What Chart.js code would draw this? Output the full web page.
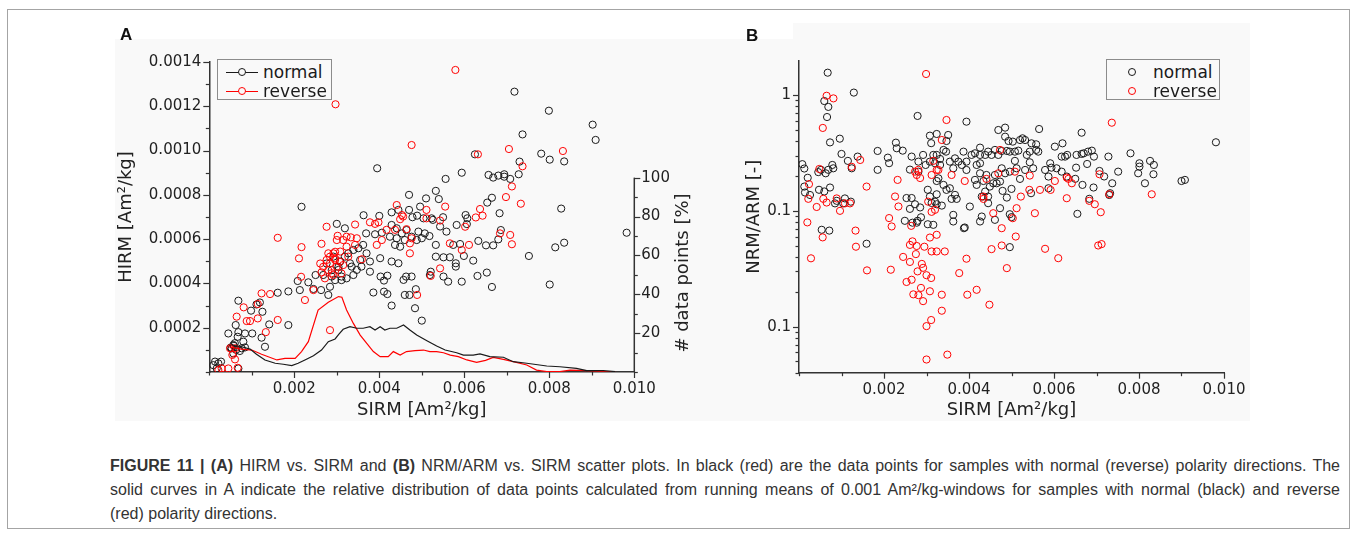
<!DOCTYPE html>
<html>
<head>
<meta charset="utf-8">
<script src="https://cdn.jsdelivr.net/npm/chart.js@4.4.1/dist/chart.umd.min.js"></script>
<style>
html,body{margin:0;padding:0;background:#fff;}
body{width:1358px;height:536px;position:relative;overflow:hidden;font-family:"DejaVu Sans",sans-serif;}
#frame{position:absolute;left:7px;top:9px;width:1343px;height:520px;border:1px solid #a4a4a4;box-sizing:border-box;}
#wrapA{position:absolute;left:115px;top:39px;width:585px;height:382px;background:#f9f9f9;}
#wrapB{position:absolute;left:700px;top:23px;width:550px;height:398px;background:#f9f9f9;}
#whiteB{position:absolute;left:700px;top:23px;width:93px;height:16px;background:#fff;}
.letter{position:absolute;font-family:"Liberation Sans",Arial,sans-serif;font-weight:bold;font-size:17px;line-height:17px;color:#111;}
.legend{position:absolute;border:1px solid #8c8c8c;box-sizing:border-box;background:#f9f9f9;}
.lgrow{position:absolute;left:0;height:20px;width:100%;}
.lgline{position:absolute;height:0;border-top:1.2px solid;}
.lgdot{position:absolute;width:8px;height:8px;border:1px solid;border-radius:50%;box-sizing:border-box;background:transparent;}
.lgtxt{position:absolute;font-family:"DejaVu Sans",sans-serif;font-size:17px;line-height:20px;color:#1a1a1a;white-space:nowrap;}
#y2title{position:absolute;left:594px;top:262px;width:176px;height:22px;line-height:22px;text-align:center;font-family:"DejaVu Sans",sans-serif;font-size:18px;color:#222;transform:rotate(-90deg);transform-origin:88px 11px;white-space:nowrap;}
#cap{position:absolute;left:110px;top:454px;font-family:"Liberation Sans",Arial,sans-serif;font-size:16px;color:#333;line-height:24px;transform-origin:0 0;}
.cl{white-space:nowrap;}
.j{text-align:justify;text-align-last:justify;}
</style>
</head>
<body>
<div id="frame"></div>
<div id="wrapA"><canvas id="cA"></canvas></div>
<div id="wrapB"><canvas id="cB"></canvas></div>
<div id="whiteB"></div>
<div class="letter" style="left:120px;top:26px;">A</div>
<div class="letter" style="left:746px;top:27px;">B</div>
<div id="y2title"># data points [%]</div>

<div class="legend" style="left:217px;top:59px;width:115px;height:41px;">
  <div class="lgrow" style="top:2px;">
    <div class="lgline" style="left:8px;top:10px;width:32px;border-color:#1a1a1a;"></div>
    <div class="lgdot" style="left:20px;top:6px;border-color:#1a1a1a;background:#f9f9f9;"></div>
    <div class="lgtxt" style="left:45px;top:0px;">normal</div>
  </div>
  <div class="lgrow" style="top:21px;">
    <div class="lgline" style="left:8px;top:10px;width:32px;border-color:#ff0000;"></div>
    <div class="lgdot" style="left:20px;top:6px;border-color:#ff0000;background:#f9f9f9;"></div>
    <div class="lgtxt" style="left:45px;top:0px;">reverse</div>
  </div>
</div>

<div class="legend" style="left:1106px;top:59px;width:114px;height:41px;">
  <div class="lgrow" style="top:2px;">
    <div class="lgdot" style="left:21px;top:6px;border-color:#1a1a1a;"></div>
    <div class="lgtxt" style="left:46px;top:0px;">normal</div>
  </div>
  <div class="lgrow" style="top:21px;">
    <div class="lgdot" style="left:21px;top:6px;border-color:#ff0000;"></div>
    <div class="lgtxt" style="left:46px;top:0px;">reverse</div>
  </div>
</div>

<div id="cap">
<div class="cl j" id="capl1"><b>FIGURE 11 |</b> <b>(A)</b> HIRM vs. SIRM and <b>(B)</b> NRM/ARM vs. SIRM scatter plots. In black (red) are the data points for samples with normal (reverse) polarity directions. The</div>
<div class="cl j">solid curves in A indicate the relative distribution of data points calculated from running means of 0.001 Am²/kg-windows for samples with normal (black) and reverse</div>
<div class="cl">(red) polarity directions.</div>
</div>

<script>
// ---------------- DATA ----------------
// shared SIRM axis
const sirmTicks = [0,0.001,0.002,0.003,0.004,0.005,0.006,0.007,0.008,0.009,0.010];
const sirmTickLabels = ['','','0.002','','0.004','','0.006','','0.008','','0.010'];

// Panel A axes
const hirmTicks = [0,0.0001,0.0002,0.0003,0.0004,0.0005,0.0006,0.0007,0.0008,0.0009,0.0010,0.0011,0.0012,0.0013,0.0014];
const hirmTickLabels = ['','','0.0002','','0.0004','','0.0006','','0.0008','','0.0010','','0.0012','','0.0014'];
const pctTicks = [0,10,20,30,40,50,60,70,80,90,100];
const pctTickLabels = ['','','20','','40','','60','','80','','100'];

// Panel B axis (log)
const ratioTicks = [0.004,0.005,0.006,0.007,0.008,0.009,0.01,0.02,0.03,0.04,0.05,0.06,0.07,0.08,0.09,0.1,0.2,0.3,0.4,0.5,0.6,0.7,0.8,0.9,1];
const ratioMajorTicks = [0.01,0.1,1];
const ratioMajorLabels = ['0.1','0.1','1'];

// Panel A: HIRM vs SIRM, normal polarity [SIRM, HIRM]
const hirmNormal = [
[0.00217,0.000746],[0.000684,0.000322],[0.00111,0.000305],[0.00119,0.000314],[0.000982,0.000277],[0.00125,0.000272],[0.00161,0.000358],[0.00186,0.000364],[0.00208,0.000411],[0.00213,0.00037],[0.00233,0.000405],[0.00245,0.000375],[0.00263,0.00037],[0.0028,0.000348],[0.0025,0.000438],[0.00268,0.000438],[0.00284,0.000385],[0.000621,0.000212],[0.000448,0.000174],[0.000684,0.00018],[0.00084,0.000174],[0.00101,0.000174],[0.000668,0.000159],[0.000801,0.000137],[0.000566,0.000122],[0.000527,0.000107],[0.000762,0.000107],[0.00084,0.000111],[0.00123,0.000155],[0.00131,0.000114],[0.00186,0.000212],[0.00141,0.000215],[0.000135,0.000047],[0.000213,0.000039],[0.000276,0.000047],[0.000095,0.000031],[0.000174,0.000016],[0.000684,0.000016],[0.000566,0.000084],[0.00276,0.00049],[0.00288,0.00046],[0.00304,0.000475],[0.00296,0.000415],[0.00311,0.000415],[0.0005,0.00011],[0.00058,0.000118],[0.00063,0.0001],[0.00072,0.000095],[0.0006,0.00013],
[0.00395,0.00092],[0.00556,0.000872],[0.00533,0.000818],[0.0054,0.000781],[0.0051,0.000784],[0.0047,0.0008],[0.00496,0.000747],[0.00429,0.000721],[0.00445,0.000732],[0.0047,0.000732],[0.00489,0.000706],[0.00478,0.000699],[0.00504,0.000694],[0.00523,0.000694],[0.0055,0.000699],[0.00526,0.000687],[0.00363,0.000708],[0.004,0.000705],[0.003,0.000669],[0.00319,0.000649],[0.00369,0.000626],[0.0039,0.000622],[0.00406,0.000629],[0.00425,0.000611],[0.00441,0.000604],[0.00437,0.000574],[0.00449,0.000566],[0.0046,0.000596],[0.00476,0.000611],[0.00488,0.000596],[0.005,0.000604],[0.00518,0.000614],[0.00402,0.000514],[0.00429,0.000499],[0.00445,0.000491],[0.00378,0.000499],[0.00358,0.000476],[0.00378,0.000453],[0.00347,0.000461],[0.00339,0.000438],[0.00331,0.000491],[0.00311,0.000431],[0.00323,0.000423],[0.00403,0.000431],[0.00411,0.000413],[0.00419,0.000435],[0.00457,0.000416],[0.00463,0.000431],[0.00476,0.000431],[0.00386,0.000359],[0.00411,0.000363],[0.00419,0.000352],[0.00429,0.0003],[0.0046,0.000348],[0.00471,0.000348],[0.00484,0.000288],[0.005,0.000232],[0.00486,0.000374],[0.00521,0.000453],[0.00519,0.000438],[0.00551,0.000431],[0.00562,0.000408],[0.0058,0.000491],[0.0058,0.000476],[0.00533,0.000574],[0.00533,0.000521],[0.00551,0.000518],[0.00566,0.000518],[0.00574,0.000574],[0.00582,0.000664],[0.00543,0.000657],[0.00558,0.000634],[0.00292,0.000521],[0.00308,0.000499],[0.00327,0.000536],[0.00339,0.000551],[0.00351,0.000559],[0.00362,0.000574],[0.00335,0.000476],[0.00304,0.000461],[0.00319,0.000521],[0.00355,0.000506],[0.0037,0.000536],[0.00288,0.000431],[0.00429,0.000664],[0.00441,0.000649],[0.00453,0.000626],[0.00464,0.000641],[0.00492,0.000634],[0.00507,0.000626],
[0.00718,0.001266],[0.00799,0.00118],[0.00902,0.001117],[0.00909,0.001048],[0.00737,0.001073],[0.00781,0.000986],[0.00801,0.000959],[0.00835,0.000951],[0.0073,0.00095],[0.00728,0.000893],[0.00657,0.00089],[0.00668,0.000878],[0.0068,0.000887],[0.00694,0.000893],[0.00694,0.000882],[0.00708,0.000872],[0.00594,0.0009],[0.00665,0.000787],[0.00654,0.000765],[0.00603,0.000709],[0.00607,0.000694],[0.00606,0.000668],[0.00683,0.000717],[0.00828,0.000738],[0.00686,0.000641],[0.0068,0.000599],[0.00633,0.000592],[0.00651,0.000572],[0.00668,0.000572],[0.0059,0.000578],[0.00599,0.000524],[0.00621,0.000503],[0.00752,0.000524],[0.00814,0.000563],[0.00835,0.000584],[0.00631,0.000434],[0.00653,0.000449],[0.00594,0.000408],[0.00665,0.000384],[0.00801,0.000395],[0.00625,0.000983],[0.00982,0.000629]
];

// Panel A: reverse polarity [SIRM, HIRM]
const hirmReverse = [
[0.00161,0.000606],[0.00217,0.000564],[0.00211,0.000513],[0.00264,0.000579],[0.00276,0.000656],[0.00302,0.000615],[0.0028,0.000536],[0.00296,0.000513],[0.00123,0.000355],[0.00143,0.000352],[0.00114,0.000307],[0.000809,0.000292],[0.000644,0.00025],[0.00088,0.00023],[0.000958,0.00023],[0.00114,0.000242],[0.00161,0.000235],[0.00133,0.00018],[0.00284,0.000189],[0.00225,0.000325],[0.00216,0.00043],[0.00245,0.00037],[0.000488,0.000107],[0.000605,0.000107],[0.000542,0.000077],[0.000605,0.000057],[0.000291,0.000016],[0.000213,0.000009],[0.000668,0.000019],[0.000448,0.000016],[0.00261,0.00049],[0.00268,0.000475],[0.00276,0.000506],[0.00284,0.000521],[0.00296,0.000543],[0.00307,0.000498],[0.00315,0.000483],[0.0028,0.00046],[0.00292,0.000438],[0.00264,0.00045],[0.00272,0.000423],[0.00311,0.000445],
[0.00476,0.001025],[0.00555,0.000747],[0.00511,0.000732],[0.00511,0.000694],[0.00543,0.000684],[0.00566,0.000581],[0.00543,0.000468],[0.00521,0.000434],[0.00472,0.000536],[0.00489,0.000348],[0.00441,0.000754],[0.00453,0.000709],[0.00449,0.00069],[0.00456,0.000702],[0.00398,0.000676],[0.0039,0.000669],[0.00378,0.000676],[0.00343,0.000666],[0.00437,0.000642],[0.00417,0.000642],[0.00406,0.000596],[0.00394,0.000574],[0.00464,0.000645],[0.00476,0.000604],[0.00472,0.000581],[0.003,0.000596],[0.00315,0.000596],[0.00323,0.000611],[0.00333,0.000608],[0.00347,0.000604],[0.00292,0.000536],[0.00308,0.000544],[0.00323,0.000566],[0.00327,0.000521],[0.003,0.000476],[0.00284,0.000491],[0.00296,0.000506],[0.00288,0.000446],[0.00359,0.000509],[0.00343,0.000574],
[0.00632,0.000983],[0.00705,0.001007],[0.00832,0.000998],[0.00737,0.000929],[0.00712,0.000838],[0.00698,0.00079],[0.00733,0.00076],[0.00637,0.000736],[0.00643,0.000706],[0.00627,0.000698],[0.00602,0.000656],[0.00611,0.000574],[0.00594,0.000551],[0.00684,0.000626],[0.00708,0.000619],[0.00712,0.000577],
[0.00297,0.001209],[0.00579,0.001364]
];

// Panel A: running-mean distribution curves (% of data points)
const normalCurveSirm = [0.00053,0.00076,0.00096,0.00111,0.00131,0.00155,0.00174,0.00194,0.00209,0.00225,0.00245,0.00264,0.0028,0.00296,0.00305,0.00315,0.00331,0.00347,0.00362,0.00378,0.0039,0.00402,0.00413,0.00425,0.00441,0.00457,0.00472,0.00488,0.00512,0.00535,0.00555,0.00582,0.00598,0.00621,0.00637,0.0066,0.00692,0.00715,0.00747,0.00794,0.00825,0.00864,0.00888,0.00927,0.00955];
const normalCurvePct  = [13.9,13.0,11.8,9.1,6.2,4.5,4.0,3.3,4.5,6.2,8.4,11.3,15.6,17.0,19.5,22.0,23.3,22.5,22.5,23.3,21.6,23.3,21.6,22.5,22.5,24.2,21.6,19.0,16.1,13.4,11.3,9.9,8.7,8.7,9.3,7.9,7.6,5.3,4.5,3.1,2.7,1.9,0.7,0.7,0.2];
const reverseCurveSirm = [0.00045,0.00076,0.001,0.00123,0.00159,0.00178,0.00202,0.00217,0.00233,0.00256,0.0028,0.00304,0.00312,0.00323,0.00339,0.00355,0.0037,0.00386,0.00402,0.00421,0.00433,0.00449,0.00464,0.00484,0.00504,0.00519,0.00535,0.00551,0.00567,0.00586,0.00606,0.00629,0.0065,0.00668,0.00692,0.00715,0.00747,0.0077,0.00794,0.00825,0.00849,0.00888,0.00927,0.00955];
const reverseCurvePct  = [13.0,11.8,11.3,9.1,6.2,7.0,7.0,10.5,15.6,31.9,35.9,38.8,38.5,31.9,25.0,19.0,14.8,10.5,7.9,7.9,10.5,8.7,10.5,11.0,11.3,10.5,10.5,9.9,8.7,7.9,6.2,5.0,6.0,7.5,6.5,5.3,3.6,1.0,0.2,0.2,1.0,0.7,0.2,0.2];

// Panel B: NRM/ARM vs SIRM, normal polarity [SIRM, NRM/ARM]
const ratioNormal = [
[0.000675,1.56],[0.00129,1.05],[0.000595,0.888],[0.00069,0.79],[0.00066,0.646],[0.00073,0.39],[0.00096,0.42],[0.001,0.31],[0.00115,0.27],[0.00124,0.233],[0.00138,0.294],[0.00185,0.329],[0.00209,0.288],[0.00212,0.258],[0.00185,0.226],[0.00228,0.388],[0.0023,0.347],[0.00244,0.331],[0.00279,0.66],
[0.000078,0.253],[0.000125,0.232],[0.000205,0.193],[0.000125,0.162],[0.000141,0.144],[0.000259,0.137],[0.000454,0.216],[0.000518,0.226],[0.000628,0.211],[0.000689,0.226],[0.000807,0.233],[0.000784,0.249],[0.000471,0.152],[0.000595,0.147],[0.00073,0.159],[0.000847,0.116],[0.000887,0.122],[0.00108,0.128],[0.00104,0.116],[0.00122,0.12],[0.000534,0.0686],[0.000713,0.0675],[0.00159,0.052],
[0.00265,0.294],[0.00281,0.266],[0.00292,0.304],[0.00308,0.266],[0.00308,0.446],[0.00311,0.384],[0.00261,0.227],[0.00281,0.218],[0.00298,0.249],[0.00253,0.129],[0.00265,0.129],[0.00261,0.104],[0.00273,0.114],[0.00285,0.107],[0.00249,0.082],[0.00279,0.082],[0.00287,0.088],[0.00303,0.152],[0.00308,0.133],[0.00312,0.117],[0.00303,0.0766],[0.00277,0.079],[0.00267,0.079],
[0.00394,0.589],[0.00469,0.499],[0.00485,0.523],[0.00485,0.437],[0.00493,0.401],[0.00503,0.396],[0.0052,0.409],[0.00526,0.423],[0.00532,0.409],[0.00547,0.383],[0.00558,0.3755],[0.00565,0.509],[0.00602,0.3585],[0.0062,0.383],[0.00631,0.304],[0.00626,0.294],[0.00324,0.461],[0.00351,0.452],[0.00347,0.401],[0.00346,0.3245],[0.0034,0.3357],[0.00316,0.304],[0.00324,0.304],[0.00332,0.2806],[0.0032,0.2575],[0.00332,0.249],[0.00355,0.266],[0.00367,0.284],[0.00363,0.233],[0.00375,0.266],[0.00387,0.3245],[0.00383,0.249],[0.00394,0.266],[0.00394,0.2255],[0.00406,0.304],[0.00414,0.314],[0.00426,0.3515],[0.00426,0.304],[0.00438,0.304],[0.00445,0.3245],[0.00453,0.304],[0.00461,0.3357],[0.00469,0.304],[0.00477,0.329],[0.00489,0.329],[0.00496,0.3245],[0.00508,0.3245],[0.00516,0.331],[0.00536,0.304],[0.00543,0.3245],[0.00558,0.3357],[0.00563,0.3245],[0.00543,0.2626],[0.00532,0.2255],[0.00551,0.233],[0.00508,0.27],[0.00512,0.233],[0.0052,0.1887],[0.00496,0.218],[0.00485,0.211],[0.00477,0.233],[0.00426,0.2575],[0.00418,0.249],[0.00426,0.211],[0.00441,0.204],[0.00414,0.185],[0.00418,0.1675],[0.00457,0.173],[0.00465,0.173],[0.00473,0.179],[0.00449,0.162],[0.00434,0.181],[0.00461,0.204],[0.00324,0.181],[0.00328,0.191],[0.0034,0.1675],[0.00347,0.1517],[0.00355,0.1567],[0.00367,0.1373],[0.00324,0.139],[0.00371,0.1268],[0.00359,0.1268],[0.00336,0.111],[0.00324,0.114],[0.00316,0.0757],[0.0032,0.12],[0.00438,0.1467],[0.00445,0.1328],[0.0043,0.1328],[0.00445,0.1164],[0.00402,0.1089],[0.00479,0.1487],[0.00489,0.1302],[0.005,0.1547],[0.00579,0.2255],[0.00594,0.236],[0.00606,0.233],[0.00591,0.2575],[0.00587,0.1977],[0.00618,0.218],[0.0063,0.1977],[0.00587,0.1567],[0.00546,0.142],[0.0043,0.0893],[0.00426,0.0809],[0.00363,0.0923],[0.00363,0.0809],[0.00388,0.0708],[0.0039,0.0718],[0.00461,0.0836],[0.00473,0.1054],[0.00496,0.0935],[0.005,0.0882],[0.00496,0.0486],
[0.00665,0.473],[0.00618,0.294],[0.00653,0.304],[0.00665,0.31],[0.0067,0.314],[0.0068,0.3245],[0.00689,0.331],[0.00694,0.294],[0.00728,0.294],[0.00678,0.254],[0.00652,0.236],[0.0065,0.189],[0.00707,0.221],[0.00718,0.198],[0.00737,0.173],[0.00751,0.218],[0.0078,0.314],[0.00801,0.2575],[0.00801,0.241],[0.00798,0.211],[0.00826,0.27],[0.00835,0.249],[0.00834,0.207],[0.00814,0.173],[0.00667,0.1675],[0.00693,0.159],[0.00683,0.127],[0.0073,0.137],[0.00732,0.142],[0.00655,0.0942],[0.009,0.181],[0.00908,0.185],[0.00981,0.391]
];

// Panel B: reverse polarity [SIRM, NRM/ARM]
const ratioReverse = [
[0.00299,1.52],[0.00065,0.986],[0.00081,0.936],[0.00056,0.52],[0.000478,0.23],[0.000235,0.17],[0.000219,0.127],[0.000572,0.127],[0.00065,0.118],[0.000416,0.108],[0.000887,0.128],[0.000965,0.1],[0.00108,0.116],[0.0012,0.116],[0.00144,0.275],[0.00124,0.24],[0.00159,0.162],[0.000196,0.0795],[0.000282,0.0389],[0.000557,0.059],[0.00133,0.0675],[0.00134,0.049],[0.0016,0.0306],[0.00216,0.031],[0.00212,0.0866],[0.00218,0.0733],[0.00226,0.133],[0.00234,0.109],[0.00232,0.185],
[0.00264,0.0742],[0.00261,0.0508],[0.00267,0.0545],[0.00277,0.0497],[0.00295,0.049],[0.00275,0.0423],[0.00261,0.0362],[0.00245,0.04],[0.00289,0.0348],[0.00292,0.0322],[0.003,0.0278],[0.00279,0.03],[0.00311,0.0263],[0.00265,0.0254],[0.00253,0.0243],[0.00287,0.0216],[0.00269,0.019],[0.00281,0.0187],[0.00292,0.0166],[0.00308,0.0202],[0.00311,0.0114],[0.003,0.0101],[0.003,0.0052],[0.00273,0.218],[0.00277,0.204],[0.00285,0.192],[0.00281,0.226],[0.00304,0.12],[0.00312,0.098],[0.00308,0.0588],[0.00312,0.0446],[0.00316,0.27],
[0.00347,0.609],[0.00336,0.409],[0.00324,0.2255],[0.00312,0.204],[0.00328,0.2255],[0.00359,0.204],[0.0039,0.181],[0.00434,0.1328],[0.00434,0.1268],[0.00457,0.0954],[0.00441,0.1887],[0.00469,0.211],[0.00473,0.3357],[0.00508,0.218],[0.00543,0.2016],[0.00522,0.1328],[0.00542,0.1517],[0.00567,0.1517],[0.00555,0.0954],[0.00512,0.1054],[0.00503,0.0864],[0.00477,0.0708],[0.0051,0.06],[0.00477,0.0502],[0.00453,0.0467],[0.00394,0.0386],[0.00377,0.029],[0.00324,0.0446],[0.00343,0.0446],[0.00324,0.0621],[0.0032,0.102],[0.00336,0.01886],[0.00396,0.01886],[0.00418,0.0208],[0.00448,0.01546],[0.00489,0.032],[0.00579,0.047],[0.0061,0.039],[0.0063,0.1937],[0.0063,0.1285],[0.00592,0.1517],[0.00602,0.181],[0.00336,0.01372],[0.00349,0.00573],
[0.00736,0.577],[0.00634,0.189],[0.00642,0.173],[0.00707,0.207],[0.00683,0.122],[0.00696,0.114],[0.0071,0.0973],[0.0073,0.139],[0.0083,0.139],[0.00704,0.0502],[0.00712,0.0516]
];

// ---------------- STYLE / HELPERS ----------------
const BLACK = '#1a1a1a';
const RED = '#ff0000';
const AXIS = '#333333';
const TICKFONT = {family:'DejaVu Sans', size:15};
const TITLEFONT = {family:'DejaVu Sans', size:18};

const pts = arr => arr.map(p => ({x:p[0], y:p[1]}));
const zip = (xs, ys) => xs.map((x,i) => ({x:x, y:ys[i]}));
const fixedTicks = values => s => { s.ticks = values.map(v => ({value:v})); };
const byIndex = labels => (v, i) => labels[i];

const tickMarks = {
  id:'tickMarks',
  afterDraw(chart){
    const ctx = chart.ctx;
    ctx.save();
    ctx.strokeStyle = AXIS;
    ctx.lineWidth = 1.2;
    Object.values(chart.scales).forEach(s => {
      s.ticks.forEach(t => {
        const major = t.label !== '' && t.label !== undefined && t.label !== null;
        const len = major ? 6 : 3.5;
        const p = Math.round(s.getPixelForValue(t.value)) + 0.5;
        ctx.beginPath();
        if (s.position === 'bottom') { ctx.moveTo(p, s.top); ctx.lineTo(p, s.top + len); }
        else if (s.position === 'left') { ctx.moveTo(s.right, p); ctx.lineTo(s.right - len, p); }
        else { ctx.moveTo(s.left, p); ctx.lineTo(s.left + len, p); }
        ctx.stroke();
      });
      if (s.id === 'y2') {
        ctx.beginPath();
        ctx.lineWidth = 1.5;
        ctx.moveTo(s.left, s.getPixelForValue(pctTicks[0]));
        ctx.lineTo(s.left, s.getPixelForValue(pctTicks[pctTicks.length-1]));
        ctx.stroke();
        ctx.lineWidth = 1.2;
      }
    });
    ctx.restore();
  }
};

function sirmScale(h){
  return {
    type:'linear', position:'bottom', min:0, max:0.010,
    afterBuildTicks: fixedTicks(sirmTicks),
    ticks:{autoSkip:false, maxRotation:0, minRotation:0, padding:8, font:TICKFONT, color:'#222', callback: byIndex(sirmTickLabels)},
    grid:{display:false, drawTicks:false},
    border:{display:true, color:AXIS, width:1.5},
    title:{display:true, text:'SIRM [Am²/kg]', font:TITLEFONT, color:'#222', padding:{top:0, bottom:0}},
    afterFit: s => { s.height = h; s.paddingLeft = 0; s.paddingRight = 0; }
  };
}

const pointStyle = color => ({
  borderColor: color, backgroundColor:'rgba(0,0,0,0)', pointRadius:3.6, pointBorderWidth:1,
  pointHoverRadius:3.6, pointStyle:'circle', showLine:false
});

const common = {
  responsive:true, maintainAspectRatio:false, animation:false, devicePixelRatio:1,
  plugins:{legend:{display:false}, tooltip:{enabled:false}},
  events:[]
};

// ---------------- CHART A ----------------
new Chart(document.getElementById('cA'), {
  type:'scatter',
  data:{datasets:[
    {label:'normal curve', data: zip(normalCurveSirm, normalCurvePct), yAxisID:'y2', showLine:true, borderColor:BLACK, borderWidth:1.2, pointRadius:0, order:0},
    {label:'reverse curve', data: zip(reverseCurveSirm, reverseCurvePct), yAxisID:'y2', showLine:true, borderColor:RED, borderWidth:1.2, pointRadius:0, order:0},
    Object.assign({label:'reverse', data: pts(hirmReverse), yAxisID:'y', order:1}, pointStyle(RED)),
    Object.assign({label:'normal', data: pts(hirmNormal), yAxisID:'y', order:2}, pointStyle(BLACK))
  ]},
  options: Object.assign({}, common, {
    layout:{padding:{top:23, left:0, right:0, bottom:0}},
    scales:{
      x: sirmScale(49),
      y:{
        type:'linear', position:'left', min:0, max:0.0014,
        afterBuildTicks: fixedTicks(hirmTicks),
        ticks:{autoSkip:false, padding:8, font:TICKFONT, color:'#222', callback: byIndex(hirmTickLabels)},
        grid:{display:false, drawTicks:false},
        border:{display:true, color:AXIS, width:1.5},
        title:{display:true, text:'HIRM [Am²/kg]', font:TITLEFONT, color:'#222', padding:{top:1, bottom:0}},
        afterFit: s => { s.width = 94.3; s.paddingTop = 0; s.paddingBottom = 0; }
      },
      y2:{
        type:'linear', position:'right', min:0, max:159.5,
        afterBuildTicks: fixedTicks(pctTicks),
        ticks:{autoSkip:false, padding:7, font:TICKFONT, color:'#222', callback: byIndex(pctTickLabels)},
        grid:{display:false, drawTicks:false},
        border:{display:false},
        afterFit: s => { s.width = 65.7; s.paddingTop = 0; s.paddingBottom = 0; }
      }
    }
  }),
  plugins:[tickMarks]
});

// ---------------- CHART B ----------------
new Chart(document.getElementById('cB'), {
  type:'scatter',
  data:{datasets:[
    Object.assign({label:'reverse', data: pts(ratioReverse), order:1}, pointStyle(RED)),
    Object.assign({label:'normal', data: pts(ratioNormal), order:2}, pointStyle(BLACK))
  ]},
  options: Object.assign({}, common, {
    layout:{padding:{top:37.7, left:0, right:26, bottom:0}},
    scales:{
      x: sirmScale(48.3),
      y:{
        type:'logarithmic', position:'left', min:0.004, max:1.98,
        afterBuildTicks: fixedTicks(ratioTicks),
        ticks:{autoSkip:false, padding:8, font:TICKFONT, color:'#222',
          callback: v => { const k = ratioMajorTicks.findIndex(m => Math.abs(m - v) / m < 1e-6); return k >= 0 ? ratioMajorLabels[k] : ''; }},
        grid:{display:false, drawTicks:false},
        border:{display:true, color:AXIS, width:1.5},
        title:{display:true, text:'NRM/ARM [-]', font:TITLEFONT, color:'#222', padding:{top:44, bottom:0}},
        afterFit: s => { s.width = 99; s.paddingTop = 0; s.paddingBottom = 0; }
      }
    }
  }),
  plugins:[tickMarks]
});

// caption: condensed look by horizontal scaling so that line 1 spans the text block width
(function(){
  const TARGET = 1230;
  const cap = document.getElementById('cap');
  const l1 = document.getElementById('capl1');
  l1.style.display = 'inline-block';
  l1.style.textAlign = 'left'; l1.style.textAlignLast = 'auto';
  const natural = l1.getBoundingClientRect().width;
  l1.style.display = ''; l1.style.textAlign = ''; l1.style.textAlignLast = '';
  const s = Math.min(1, TARGET / natural);
  const w = TARGET / s;
  cap.style.width = w + 'px';
  cap.querySelectorAll('.cl').forEach(el => { el.style.width = w + 'px'; });
  cap.style.transform = 'scaleX(' + s + ')';
})();
</script>
</body>
</html>
